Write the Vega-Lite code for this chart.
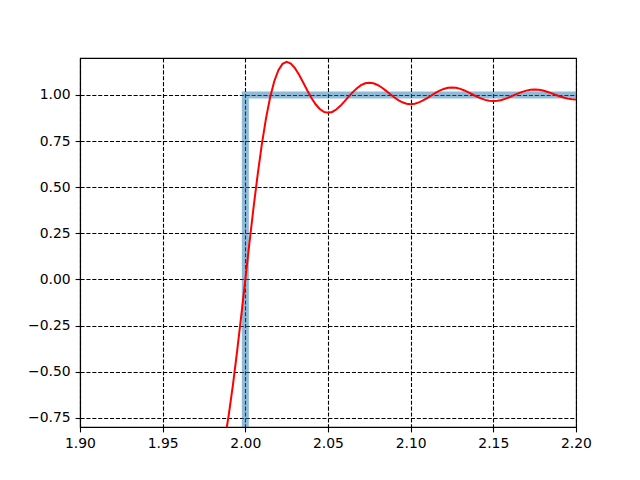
{
  "$schema": "https://vega.github.io/schema/vega-lite/v6.json",
  "autosize": "none",
  "padding": {"left": 80, "top": 58, "right": 64, "bottom": 53},
  "width": 496,
  "height": 369,
  "background": "white",
  "config": {
    "view": {"stroke": "black", "strokeWidth": 1.1},
    "axis": {
      "domainColor": "black",
      "domainWidth": 1.1,
      "tickColor": "black",
      "tickSize": 4.9,
      "tickWidth": 1.1,
      "labelColor": "black",
      "labelFont": "DejaVu Sans",
      "labelFontSize": 13.9,
      "labelPadding": 4.9,
      "labelFlush": false,
      "labelOverlap": false,
      "labelBound": false,
      "grid": true,
      "gridColor": "black",
      "gridOpacity": 1,
      "gridWidth": 1.1,
      "gridDash": [4.1, 1.8],
      "title": null
    }
  },
  "datasets": {
    "step": [
      {"i": 0, "x": 1.9, "y": -1},
      {"i": 1, "x": 2.0, "y": -1},
      {"i": 2, "x": 2.0, "y": 1},
      {"i": 3, "x": 2.2, "y": 1}
    ],
    "fourier": [
      {"x": 1.985, "y": -0.9869}, {"x": 1.9875, "y": -0.8727}, {"x": 1.99, "y": -0.7331},
      {"x": 1.9925, "y": -0.5712}, {"x": 1.995, "y": -0.3913}, {"x": 1.9975, "y": -0.1989},
      {"x": 2.0, "y": 0}, {"x": 2.0025, "y": 0.1989}, {"x": 2.005, "y": 0.3913},
      {"x": 2.0075, "y": 0.5712}, {"x": 2.01, "y": 0.7331}, {"x": 2.0125, "y": 0.8727},
      {"x": 2.015, "y": 0.9869}, {"x": 2.0175, "y": 1.0742}, {"x": 2.02, "y": 1.1343},
      {"x": 2.0225, "y": 1.1684}, {"x": 2.025, "y": 1.179}, {"x": 2.0275, "y": 1.1697},
      {"x": 2.03, "y": 1.1448}, {"x": 2.0325, "y": 1.109}, {"x": 2.035, "y": 1.0672},
      {"x": 2.0375, "y": 1.024}, {"x": 2.04, "y": 0.9835}, {"x": 2.0425, "y": 0.9492},
      {"x": 2.045, "y": 0.9235}, {"x": 2.0475, "y": 0.9079}, {"x": 2.05, "y": 0.9028},
      {"x": 2.0525, "y": 0.9075}, {"x": 2.055, "y": 0.9209}, {"x": 2.0575, "y": 0.9408},
      {"x": 2.06, "y": 0.9648}, {"x": 2.0625, "y": 0.9904}, {"x": 2.065, "y": 1.015},
      {"x": 2.0675, "y": 1.0364}, {"x": 2.07, "y": 1.0527}, {"x": 2.0725, "y": 1.0629},
      {"x": 2.075, "y": 1.0662}, {"x": 2.0775, "y": 1.063}, {"x": 2.08, "y": 1.0539},
      {"x": 2.0825, "y": 1.0401}, {"x": 2.085, "y": 1.0232}, {"x": 2.0875, "y": 1.0051},
      {"x": 2.09, "y": 0.9874}, {"x": 2.0925, "y": 0.9719}, {"x": 2.095, "y": 0.9599},
      {"x": 2.0975, "y": 0.9524}, {"x": 2.1, "y": 0.9499}, {"x": 2.1025, "y": 0.9524},
      {"x": 2.105, "y": 0.9593}, {"x": 2.1075, "y": 0.9698}, {"x": 2.11, "y": 0.9828},
      {"x": 2.1125, "y": 0.9969}, {"x": 2.115, "y": 1.0107}, {"x": 2.1175, "y": 1.0228},
      {"x": 2.12, "y": 1.0323}, {"x": 2.1225, "y": 1.0382}, {"x": 2.125, "y": 1.0402},
      {"x": 2.1275, "y": 1.0383}, {"x": 2.13, "y": 1.0327}, {"x": 2.1325, "y": 1.0241},
      {"x": 2.135, "y": 1.0136}, {"x": 2.1375, "y": 1.0021}, {"x": 2.14, "y": 0.9908},
      {"x": 2.1425, "y": 0.9808}, {"x": 2.145, "y": 0.973}, {"x": 2.1475, "y": 0.9681},
      {"x": 2.15, "y": 0.9664}, {"x": 2.1525, "y": 0.9681}, {"x": 2.155, "y": 0.9727},
      {"x": 2.1575, "y": 0.9799}, {"x": 2.16, "y": 0.9888}, {"x": 2.1625, "y": 0.9985},
      {"x": 2.165, "y": 1.0081}, {"x": 2.1675, "y": 1.0166}, {"x": 2.17, "y": 1.0232},
      {"x": 2.1725, "y": 1.0274}, {"x": 2.175, "y": 1.0288}, {"x": 2.1775, "y": 1.0274},
      {"x": 2.18, "y": 1.0234}, {"x": 2.1825, "y": 1.0172}, {"x": 2.185, "y": 1.0095},
      {"x": 2.1875, "y": 1.0011}, {"x": 2.19, "y": 0.9928}, {"x": 2.1925, "y": 0.9855},
      {"x": 2.195, "y": 0.9797}, {"x": 2.1975, "y": 0.976}, {"x": 2.2, "y": 0.9748}
    ]
  },
  "encoding": {
    "x": {
      "field": "x",
      "type": "quantitative",
      "scale": {"domain": [1.9, 2.2], "nice": false, "zero": false},
      "axis": {"values": [1.9, 1.95, 2.0, 2.05, 2.1, 2.15, 2.2], "format": ".2f"}
    },
    "y": {
      "field": "y",
      "type": "quantitative",
      "scale": {"domain": [-0.8, 1.2], "nice": false, "zero": false},
      "axis": {"values": [-0.75, -0.5, -0.25, 0, 0.25, 0.5, 0.75, 1.0], "format": ".2f"}
    }
  },
  "layer": [
    {
      "data": {"name": "step"},
      "mark": {"type": "line", "clip": true, "color": "#1f77b4", "opacity": 0.5, "strokeWidth": 7, "strokeJoin": "miter"},
      "encoding": {"order": {"field": "i", "type": "quantitative"}}
    },
    {
      "data": {"name": "fourier"},
      "mark": {"type": "line", "clip": true, "color": "#ff0000", "strokeWidth": 2}
    }
  ]
}
